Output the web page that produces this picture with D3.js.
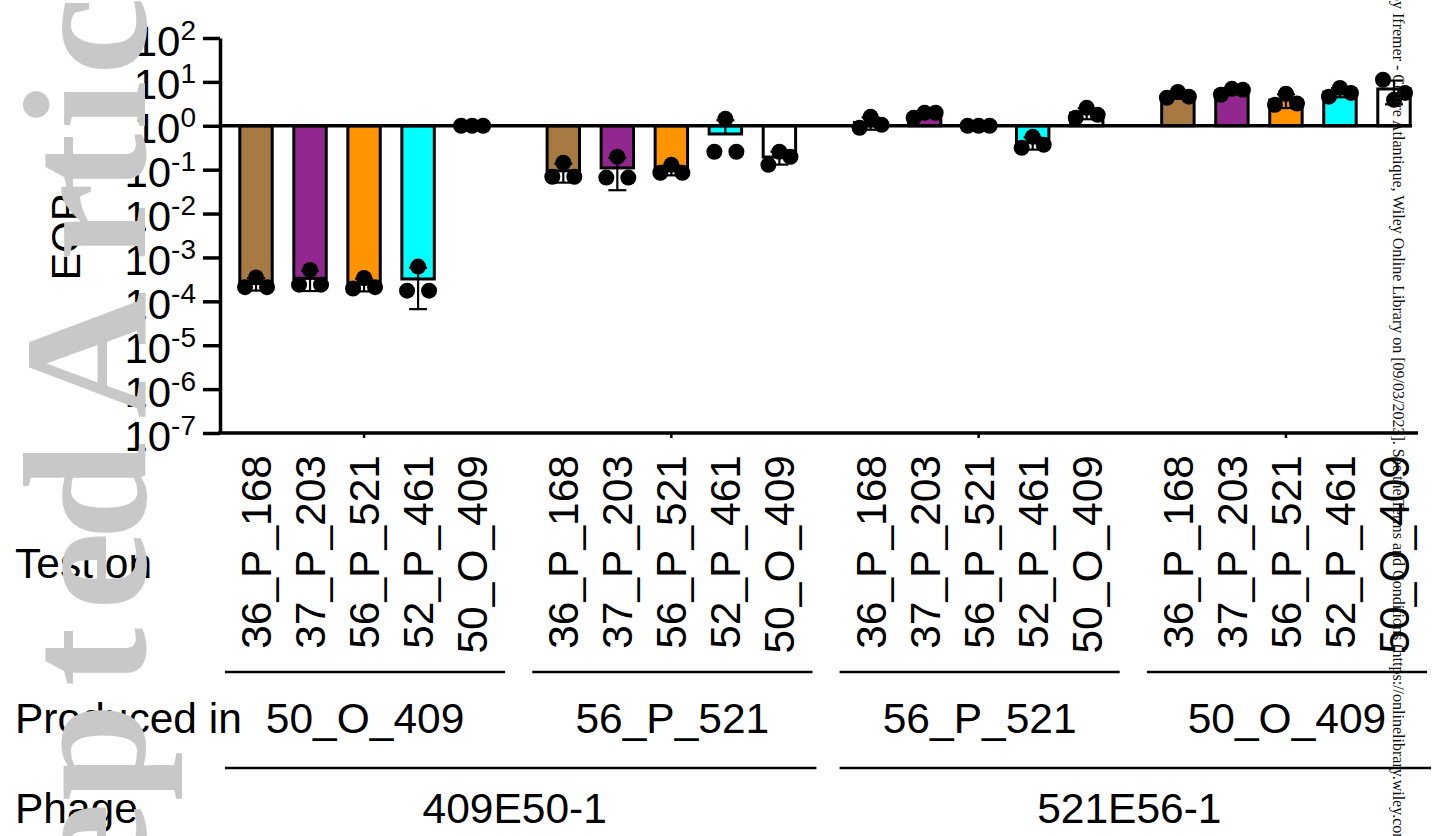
<!DOCTYPE html>
<html>
<head>
  <meta charset="utf-8">
  <title>EOP bar chart</title>
  <script src="https://cdn.jsdelivr.net/npm/d3@7"></script>
  <style>
    body { margin: 0; background: #fff; }
    text { font-family: "Liberation Sans", Arial, sans-serif; }
  </style>
</head>
<body>
  <svg id="chart" width="1435" height="836"></svg>
  <script type="text/javascript">
    // --- data ---
    var strains = ["36_P_168", "37_P_203", "56_P_521", "52_P_461", "50_O_409"];
    var strainColors = ["#a87a43", "#92278f", "#ff9300", "#00ffff", "#ffffff"];
    var groups = ["g1", "g2", "g3", "g4"];
    var producedIn = ["50_O_409", "56_P_521", "56_P_521", "50_O_409"];
    var phages = ["409E50-1", "521E56-1"];
    var phageGroups = [["g1", "g2"], ["g3", "g4"]];
    var yTicks = [1e2, 1e1, 1e0, 1e-1, 1e-2, 1e-3, 1e-4, 1e-5, 1e-6, 1e-7];
    var yExponents = ["2", "1", "0", "-1", "-2", "-3", "-4", "-5", "-6", "-7"];

    // three replicates per bar (EOP), one list per group, in strain order
    var g1Values = [[2.1e-4, 3.5e-4, 2.1e-4], [2.4e-4, 5.2e-4, 2.4e-4], [1.95e-4, 3.4e-4, 2.1e-4], [1.75e-4, 6.2e-4, 1.75e-4], [1, 1, 1]];
    var g2Values = [[0.069, 0.144, 0.069], [0.066, 0.197, 0.066], [0.085, 0.129, 0.085], [0.256, 1.44, 0.256], [0.129, 0.256, 0.197]];
    var g3Values = [[0.9, 1.6, 1.05], [1.52, 1.98, 1.98], [1, 1, 1], [0.315, 0.56, 0.37], [1.52, 2.57, 1.78]];
    var g4Values = [[4.35, 5.9, 4.6], [5.1, 6.96, 6.6], [3.0, 5.4, 3.2], [4.6, 7.3, 5.6], [11.2, 3.9, 5.6]];
    var allValues = [g1Values, g2Values, g3Values, g4Values];

    // watermark letters of "Accepted Article" seen in the left margin
    var markLetters = ["c", "i", "t", "r", "A", "d", "e", "t", "p", "e"];
    var markCenters = [36, 105, 163, 222, 355, 491, 571, 657, 752, 842];

    var svg = d3.select("#chart");

    var gx = d3.scaleBand().domain(groups).range([229, 1421]).paddingInner(0.121);
    var bx = d3.scaleBand().domain(strains).range([0, gx.bandwidth()]).paddingInner(0.4).paddingOuter(0.2);
    var y = d3.scaleLog().domain([1e-7, 1e2]).range([433, 38]);

    var bars = [];
    groups.forEach(function(g, gi) {
      strains.forEach(function(s, si) {
        var vals = allValues[gi][si];
        var m = d3.mean(vals);
        var sd = d3.deviation(vals) || 0;
        bars.push({ group: g, strain: s, color: strainColors[si], vals: vals, mean: m, sd: sd,
          cx: gx(g) + bx(s) + bx.bandwidth() / 2 });
      });
    });

    // bars hanging from EOP = 1
    svg.append("g").selectAll("rect").data(bars).enter().append("rect")
      .attr("x", function(d) { return d.cx - bx.bandwidth() / 2; })
      .attr("y", function(d) { return Math.min(y(d.mean), y(1)); })
      .attr("width", bx.bandwidth())
      .attr("height", function(d) { return Math.abs(y(d.mean) - y(1)); })
      .attr("fill", function(d) { return d.color; })
      .attr("stroke", "#000").attr("stroke-width", 3);

    // error bars (mean +/- SD)
    var eb = svg.append("g").attr("stroke", "#000").attr("stroke-width", 2.2);
    bars.forEach(function(d) {
      if (d.sd === 0) return;
      var hi = y(d.mean + d.sd);
      var lo = d.mean - d.sd > 0 ? y(d.mean - d.sd) : y(d.mean);
      eb.append("line").attr("x1", d.cx).attr("x2", d.cx).attr("y1", hi).attr("y2", lo);
      eb.append("line").attr("x1", d.cx - 9).attr("x2", d.cx + 9).attr("y1", hi).attr("y2", hi);
      if (d.mean - d.sd > 0)
        eb.append("line").attr("x1", d.cx - 9).attr("x2", d.cx + 9).attr("y1", lo).attr("y2", lo);
    });

    // replicate points
    var offsets = [-11, 0, 11];
    var pts = [];
    bars.forEach(function(d) {
      d.vals.forEach(function(v, i) { pts.push({ x: d.cx + offsets[i], v: v }); });
    });
    svg.append("g").selectAll("circle").data(pts).enter().append("circle")
      .attr("cx", function(d) { return d.x; })
      .attr("cy", function(d) { return y(d.v); })
      .attr("r", 8).attr("fill", "#000");

    // baseline at 1
    svg.append("line").attr("x1", 220).attr("x2", 1412).attr("y1", y(1)).attr("y2", y(1))
      .attr("stroke", "#000").attr("stroke-width", 3.5);

    // y axis
    var yAxis = svg.append("g").attr("transform", "translate(220,0)")
      .call(d3.axisLeft(y).tickValues(yTicks).tickSize(17).tickSizeOuter(0).tickFormat(""));
    yAxis.select(".domain").attr("stroke-width", 3.5);
    yAxis.selectAll(".tick line").attr("stroke-width", 3.5);
    yAxis.selectAll(".tick text").remove();
    yAxis.selectAll(".tick").each(function(d) {
      var t = d3.select(this).append("text").attr("x", -24).attr("y", 17)
        .attr("text-anchor", "end").attr("fill", "#000");
      t.append("tspan").attr("font-size", 42).text("10");
      t.append("tspan").attr("font-size", 28).attr("dy", -16).text(yExponents[yTicks.indexOf(d)]);
    });

    svg.append("text").attr("transform", "translate(80,237) rotate(-90)")
      .attr("text-anchor", "middle").attr("font-size", 41).text("EOP");

    // x axis
    svg.append("line").attr("x1", 218).attr("x2", 1418).attr("y1", 433).attr("y2", 433)
      .attr("stroke", "#000").attr("stroke-width", 3.5);
    svg.append("g").selectAll("line").data(groups).enter().append("line")
      .attr("x1", function(g) { return gx(g) + gx.bandwidth() / 2; })
      .attr("x2", function(g) { return gx(g) + gx.bandwidth() / 2; })
      .attr("y1", 433).attr("y2", 438).attr("stroke", "#000").attr("stroke-width", 2.5);

    // strain labels
    svg.append("g").selectAll("text").data(bars).enter().append("text")
      .attr("transform", function(d) { return "translate(" + (d.cx + 15) + ",455) rotate(-90)"; })
      .attr("text-anchor", "end").attr("font-size", 42.5)
      .text(function(d) { return d.strain; });

    // row titles
    var rows = [["Test on", 578], ["Produced in", 733], ["Phage", 823]];
    svg.append("g").selectAll("text").data(rows).enter().append("text")
      .attr("x", 15).attr("y", function(d) { return d[1]; })
      .attr("font-size", 42.5).text(function(d) { return d[0]; });

    // produced-in row
    var ann = svg.append("g");
    groups.forEach(function(g, i) {
      var x0 = gx(g) - 4, x1 = gx(g) + gx.bandwidth() + 6;
      ann.append("line").attr("x1", x0).attr("x2", x1).attr("y1", 672).attr("y2", 672)
        .attr("stroke", "#000").attr("stroke-width", 2.5);
      ann.append("text").attr("x", (x0 + x1) / 2).attr("y", 733).attr("text-anchor", "middle")
        .attr("font-size", 42.5).text(producedIn[i]);
    });
    // phage row
    phages.forEach(function(p, i) {
      var a = phageGroups[i][0], b = phageGroups[i][1];
      var x0 = gx(a) - 4, x1 = gx(b) + gx.bandwidth() + 10;
      ann.append("line").attr("x1", x0).attr("x2", x1).attr("y1", 768).attr("y2", 768)
        .attr("stroke", "#000").attr("stroke-width", 2.5);
      ann.append("text").attr("x", (x0 + x1) / 2 - 6).attr("y", 823).attr("text-anchor", "middle")
        .attr("font-size", 42.5).text(p);
    });

    // journal watermark and download notice
    svg.append("g").selectAll("text").data(markLetters).enter().append("text")
      .attr("transform", function(d, i) { return "translate(145," + markCenters[i] + ") rotate(-90)"; })
      .attr("text-anchor", "middle")
      .style("font-family", "'Liberation Serif', 'Times New Roman', serif")
      .attr("font-weight", "bold").attr("font-size", 176).attr("fill", "#c8c8c8")
      .text(function(d) { return d; });

    svg.append("text").attr("transform", "translate(1393,-7) rotate(90)")
      .style("font-family", "'Liberation Serif', 'Times New Roman', serif")
      .attr("font-size", 16).attr("fill", "#111")
      .text("by Ifremer - Centre Atlantique, Wiley Online Library on [09/03/2023]. See the Terms and Conditions (https://onlinelibrary.wiley.com/terms-and-conditions) on Wiley Online Library for rules of use");
  </script>
</body>
</html>
